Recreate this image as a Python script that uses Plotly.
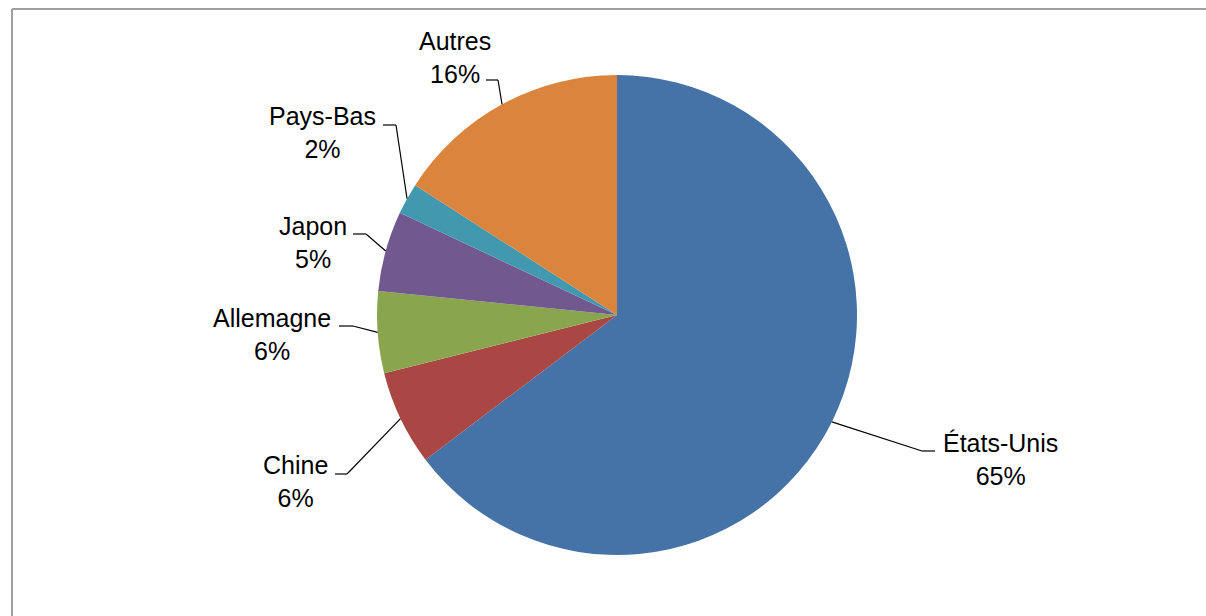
import math
import plotly.graph_objects as go

# ---- data ----
countries = ["États-Unis", "Chine", "Allemagne", "Japon", "Pays-Bas", "Autres"]
shares = [64.7, 6.4, 5.5, 5.4, 2.1, 15.9]
colors = ["#4572A7", "#AA4643", "#89A54E", "#71588F", "#4198AF", "#DB843D"]

# ---- layout config (pixels) ----
W, H = 1206, 616
CX, CY, R = 617, 315, 240
# label text centre, stub end near text, stub end toward pie
label_pos = [(1000, 459), (295, 481), (272, 334), (313, 243), (322, 132), (455, 57)]
stub_text = [(935, 451), (335, 474), (339, 326), (353, 234), (383, 125), (486, 80)]
stub_pie = [(922, 451), (347, 474), (353, 326), (366, 234), (396, 125), (498, 80)]

def px(x):
    return x / W

def py(y):
    return 1 - y / H

fig = go.Figure(go.Pie(
    labels=countries,
    values=shares,
    sort=False,
    direction="clockwise",
    rotation=0,
    marker=dict(colors=colors, line=dict(width=0)),
    textinfo="none",
    hoverinfo="label+percent",
    domain=dict(x=[(CX - R) / W, (CX + R) / W], y=[1 - (CY + R) / H, 1 - (CY - R) / H]),
    showlegend=False,
))

shapes = []
annotations = []
total = sum(shares)
cum = 0.0
for i, v in enumerate(shares):
    mid = (cum + v / 2) / total * 2 * math.pi
    cum += v
    ex = CX + R * math.sin(mid)
    ey = CY - R * math.cos(mid)
    sx1, sy1 = stub_pie[i]
    sx2, sy2 = stub_text[i]
    shapes.append(dict(type="line", xref="paper", yref="paper",
                       x0=px(ex), y0=py(ey), x1=px(sx1), y1=py(sy1),
                       line=dict(color="black", width=1.2)))
    shapes.append(dict(type="line", xref="paper", yref="paper",
                       x0=px(sx1), y0=py(sy1), x1=px(sx2), y1=py(sy2),
                       line=dict(color="black", width=1.2)))
    pct = round(v / total * 100)
    lx, ly = label_pos[i]
    annotations.append(dict(x=px(lx), y=py(ly), xref="paper", yref="paper",
                            text=f"{countries[i]}<br>{pct}%", showarrow=False,
                            xanchor="center", yanchor="middle", align="center",
                            font=dict(family="Liberation Sans, Arial", size=25, color="black")))

# chart frame (top and left edges visible)
shapes.append(dict(type="line", xref="paper", yref="paper", x0=px(12), y0=py(9), x1=1, y1=py(9),
                   line=dict(color="#A0A0A0", width=2)))
shapes.append(dict(type="line", xref="paper", yref="paper", x0=px(12), y0=py(9), x1=px(12), y1=0,
                   line=dict(color="#A0A0A0", width=2)))

fig.update_layout(
    width=W, height=H,
    margin=dict(l=0, r=0, t=0, b=0),
    paper_bgcolor="white", plot_bgcolor="white",
    shapes=shapes, annotations=annotations,
)

fig.write_html("out.html", config={"displayModeBar": False},
               post_script="document.body.style.margin='0';document.body.style.overflow='hidden';")
